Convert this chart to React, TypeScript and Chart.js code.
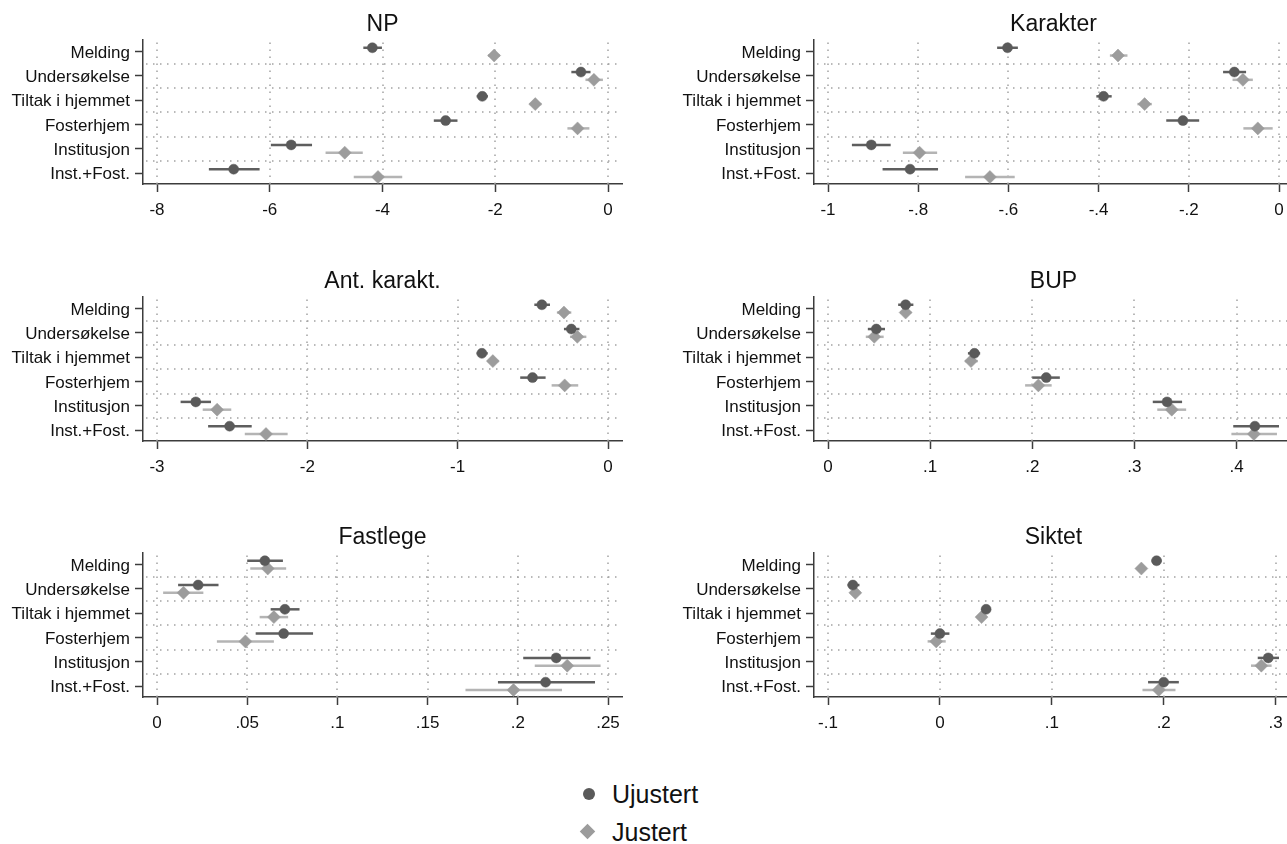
import { useEffect, useRef } from 'react';
import { Chart, registerables } from 'chart.js';

Chart.register(...registerables);

const FONT = '"Liberation Sans", Arial, Helvetica, sans-serif';
Chart.defaults.font.family = FONT;

const categories = ['Melding', 'Undersøkelse', 'Tiltak i hjemmet', 'Fosterhjem', 'Institusjon', 'Inst.+Fost.'];
const seriesNames = ['Ujustert', 'Justert'];

// NP
const npTicks = [-8, -6, -4, -2, 0];
const npUjustert = [-4.18, -0.48, -2.23, -2.88, -5.62, -6.64];
const npUjustertCI = [[-4.34, -4.01], [-0.65, -0.31], [-2.33, -2.13], [-3.09, -2.67], [-5.98, -5.25], [-7.08, -6.18]];
const npJustert = [-2.02, -0.25, -1.29, -0.54, -4.67, -4.08];
const npJustertCI = [[-2.13, -1.92], [-0.4, -0.09], [-1.39, -1.18], [-0.72, -0.33], [-5.01, -4.35], [-4.51, -3.65]];

// Karakter
const karTicks = [-1, -0.8, -0.6, -0.4, -0.2, 0];
const karUjustert = [-0.602, -0.099, -0.389, -0.213, -0.904, -0.818];
const karUjustertCI = [[-0.625, -0.579], [-0.124, -0.073], [-0.405, -0.371], [-0.25, -0.177], [-0.947, -0.861], [-0.879, -0.756]];
const karJustert = [-0.357, -0.08, -0.298, -0.047, -0.797, -0.641];
const karJustertCI = [[-0.375, -0.336], [-0.103, -0.058], [-0.314, -0.282], [-0.079, -0.014], [-0.834, -0.758], [-0.696, -0.586]];

// Ant. karakt.
const antTicks = [-3, -2, -1, 0];
const antUjustert = [-0.44, -0.244, -0.839, -0.502, -2.742, -2.517];
const antUjustertCI = [[-0.49, -0.386], [-0.293, -0.19], [-0.874, -0.8], [-0.584, -0.415], [-2.843, -2.641], [-2.66, -2.37]];
const antJustert = [-0.293, -0.204, -0.766, -0.288, -2.6, -2.275];
const antJustertCI = [[-0.34, -0.244], [-0.253, -0.144], [-0.8, -0.728], [-0.375, -0.198], [-2.696, -2.506], [-2.416, -2.131]];

// BUP
const bupTicks = [0, 0.1, 0.2, 0.3, 0.4];
const bupUjustert = [0.076, 0.0473, 0.1434, 0.2137, 0.332, 0.418];
const bupUjustertCI = [[0.0687, 0.0836], [0.039, 0.0558], [0.137, 0.149], [0.2, 0.227], [0.318, 0.3467], [0.3968, 0.4416]];
const bupJustert = [0.076, 0.0453, 0.14, 0.206, 0.3366, 0.417];
const bupJustertCI = [[0.0707, 0.0816], [0.037, 0.0545], [0.134, 0.1467], [0.193, 0.219], [0.3224, 0.3507], [0.395, 0.4396]];

// Fastlege
const fastTicks = [0, 0.05, 0.1, 0.15, 0.2, 0.25];
const fastUjustert = [0.0598, 0.0228, 0.0709, 0.0702, 0.2213, 0.2154];
const fastUjustertCI = [[0.05, 0.0698], [0.0117, 0.0341], [0.063, 0.079], [0.0547, 0.0865], [0.203, 0.2403], [0.189, 0.2428]];
const fastJustert = [0.0614, 0.0147, 0.0648, 0.049, 0.2274, 0.1976];
const fastJustertCI = [[0.0517, 0.0716], [0.0034, 0.0257], [0.0569, 0.0727], [0.0332, 0.0648], [0.2094, 0.2459], [0.171, 0.2245]];

// Siktet
const sikTicks = [-0.1, 0, 0.1, 0.2, 0.3];
const sikUjustert = [0.1936, -0.0778, 0.0413, 0.0, 0.2934, 0.2];
const sikUjustertCI = [[0.1892, 0.198], [-0.0826, -0.0719], [0.0372, 0.0454], [-0.0081, 0.0085], [0.284, 0.303], [0.186, 0.2135]];
const sikJustert = [0.18, -0.0756, 0.0372, -0.0033, 0.2872, 0.1956];
const sikJustertCI = [[0.1763, 0.184], [-0.08, -0.0708], [0.0332, 0.0417], [-0.011, 0.0052], [0.278, 0.2964], [0.181, 0.2105]];

const DARK = '#5a5a5a';
const LIGHT = '#9c9c9c';
const DARK_CI = '#5e5e5e';
const LIGHT_CI = '#b4b4b4';
const AXIS = '#3c3c3c';
const GRID = '#a3a3a3';

// Stata-style number labels: "-.8", ".05", "0"
function axisLabel(v: number): string {
  const r = Math.round(v * 10000) / 10000;
  if (r === 0) return '0';
  let s = String(Math.abs(r));
  if (s.startsWith('0.')) s = s.slice(1);
  return (r < 0 ? '-' : '') + s;
}

type PanelProps = {
  title: string;
  ticks: number[];
  u: number[];
  uCI: number[][];
  j: number[];
  jCI: number[][];
  left: number;
  top: number;
  width: number;
  axisWidth: number;
};

const CANVAS_H = 257;
const PLOT_TOP = 39.5;
const PLOT_BOTTOM = 184;
const PLOT_W = 479;
const ROW_SHIFT = 0.16;

function Panel({ title, ticks, u, uCI, j, jCI, left, top, width, axisWidth }: PanelProps) {
  const ref = useRef<HTMLCanvasElement | null>(null);

  useEffect(() => {
    const canvas = ref.current;
    if (!canvas) return;

    // axis range spans ticks and all interval ends, with a small margin on each side
    const allLo = [...uCI, ...jCI].map((c) => c[0]);
    const allHi = [...uCI, ...jCI].map((c) => c[1]);
    const rMin = Math.min(ticks[0], ...allLo, ...u, ...j);
    const rMax = Math.max(ticks[ticks.length - 1], ...allHi, ...u, ...j);
    const pad = ((rMax - rMin) * 14) / 451;

    const decor = {
      id: 'panelDecor',
      beforeDatasetsDraw(chart: any) {
        const { ctx, chartArea } = chart;
        const { left: l, right: r, top: t, bottom: b } = chartArea;
        const xs = chart.scales.x;
        const ys = chart.scales.y;
        ctx.save();
        ctx.strokeStyle = GRID;
        ctx.lineWidth = 1.5;
        ctx.setLineDash([1.5, 5.5]);
        for (const tk of xs.ticks) {
          const px = Math.round(xs.getPixelForValue(tk.value));
          ctx.beginPath();
          ctx.moveTo(px, t + 3);
          ctx.lineTo(px, b);
          ctx.stroke();
        }
        for (let k = 1; k < categories.length; k++) {
          const py = Math.round(ys.getPixelForValue(k + 0.5));
          ctx.beginPath();
          ctx.moveTo(l + 3, py);
          ctx.lineTo(r, py);
          ctx.stroke();
        }
        ctx.setLineDash([]);
        ctx.lineWidth = 2.5;
        chart.data.datasets.forEach((ds: any) => {
          ctx.strokeStyle = ds.ciColor;
          ds.ci.forEach((c: number[], k: number) => {
            const py = ys.getPixelForValue(ds.data[k].y);
            ctx.beginPath();
            ctx.moveTo(xs.getPixelForValue(c[0]), py);
            ctx.lineTo(xs.getPixelForValue(c[1]), py);
            ctx.stroke();
          });
        });
        ctx.restore();
      },
      afterDraw(chart: any) {
        const { ctx, chartArea } = chart;
        ctx.save();
        ctx.fillStyle = '#111';
        ctx.font = `23px ${FONT}`;
        ctx.textAlign = 'center';
        ctx.textBaseline = 'middle';
        ctx.fillText(title, (chartArea.left + chartArea.right) / 2, 25);
        ctx.restore();
      },
    };

    const chart = new Chart(canvas, {
      type: 'scatter',
      data: {
        datasets: [
          {
            label: seriesNames[0],
            data: u.map((v, i) => ({ x: v, y: i + 1 - ROW_SHIFT })),
            pointStyle: 'circle',
            pointRadius: 5,
            backgroundColor: DARK,
            borderColor: DARK,
            borderWidth: 0.5,
            ci: uCI,
            ciColor: DARK_CI,
          } as any,
          {
            label: seriesNames[1],
            data: j.map((v, i) => ({ x: v, y: i + 1 + ROW_SHIFT })),
            pointStyle: 'rectRot',
            pointRadius: 6.5,
            backgroundColor: LIGHT,
            borderColor: LIGHT,
            borderWidth: 0.5,
            ci: jCI,
            ciColor: LIGHT_CI,
          } as any,
        ],
      },
      options: {
        responsive: false,
        animation: false,
        devicePixelRatio: 1,
        events: [],
        layout: { padding: { top: PLOT_TOP, left: 0, right: width - axisWidth - PLOT_W, bottom: 0 } },
        plugins: { legend: { display: false }, tooltip: { enabled: false }, title: { display: false } },
        scales: {
          x: {
            type: 'linear',
            min: rMin - pad,
            max: rMax + pad,
            afterBuildTicks: (s: any) => {
              s.ticks = ticks.map((v) => ({ value: v }));
            },
            afterFit: (s: any) => {
              s.height = CANVAS_H - PLOT_BOTTOM;
              s.paddingLeft = 0;
              s.paddingRight = 0;
            },
            ticks: {
              callback: (v: any) => axisLabel(Number(v)),
              font: { size: 17, family: FONT },
              color: '#111',
              padding: 8,
              maxRotation: 0,
              autoSkip: false,
            },
            grid: { drawOnChartArea: false, drawTicks: true, tickLength: 8, tickWidth: 1.5, tickColor: AXIS },
            border: { display: true, color: AXIS, width: 1.5 },
          },
          y: {
            type: 'linear',
            reverse: true,
            min: 0.5,
            max: 6.45,
            afterBuildTicks: (s: any) => {
              s.ticks = categories.map((_, i) => ({ value: i + 1 }));
            },
            afterFit: (s: any) => {
              s.width = axisWidth;
            },
            ticks: {
              callback: (v: any) => categories[Math.round(Number(v)) - 1],
              font: { size: 17, family: FONT },
              color: '#111',
              padding: 5,
              labelOffset: 1.5,
              autoSkip: false,
            },
            grid: { drawOnChartArea: false, drawTicks: true, tickLength: 8, tickWidth: 1.5, tickColor: AXIS },
            border: { display: true, color: AXIS, width: 1.5 },
          },
        },
      } as any,
      plugins: [decor],
    });

    return () => chart.destroy();
  }, [title, ticks, u, uCI, j, jCI, width, axisWidth]);

  return (
    <canvas
      ref={ref}
      width={width}
      height={CANVAS_H}
      style={{ position: 'absolute', left, top, width, height: CANVAS_H }}
    />
  );
}

export default function App() {
  const rowTops = [0, 257, 513];
  return (
    <div
      style={{
        position: 'absolute',
        left: 0,
        top: 0,
        width: 1287,
        height: 844,
        overflow: 'hidden',
        background: '#fff',
        fontFamily: FONT,
      }}
    >
      <Panel title="NP" ticks={npTicks} u={npUjustert} uCI={npUjustertCI} j={npJustert} jCI={npJustertCI}
        left={0} top={rowTops[0]} width={640} axisWidth={143} />
      <Panel title="Karakter" ticks={karTicks} u={karUjustert} uCI={karUjustertCI} j={karJustert} jCI={karJustertCI}
        left={640} top={rowTops[0]} width={660} axisWidth={174} />
      <Panel title="Ant. karakt." ticks={antTicks} u={antUjustert} uCI={antUjustertCI} j={antJustert} jCI={antJustertCI}
        left={0} top={rowTops[1]} width={640} axisWidth={143} />
      <Panel title="BUP" ticks={bupTicks} u={bupUjustert} uCI={bupUjustertCI} j={bupJustert} jCI={bupJustertCI}
        left={640} top={rowTops[1]} width={660} axisWidth={174} />
      <Panel title="Fastlege" ticks={fastTicks} u={fastUjustert} uCI={fastUjustertCI} j={fastJustert} jCI={fastJustertCI}
        left={0} top={rowTops[2]} width={640} axisWidth={143} />
      <Panel title="Siktet" ticks={sikTicks} u={sikUjustert} uCI={sikUjustertCI} j={sikJustert} jCI={sikJustertCI}
        left={640} top={rowTops[2]} width={660} axisWidth={174} />

      {/* legend */}
      <div style={{ position: 'absolute', left: 583, top: 788, width: 12, height: 12, borderRadius: '50%', background: DARK }} />
      <div style={{ position: 'absolute', left: 612, top: 779, height: 30, lineHeight: '30px', fontSize: 25, color: '#111' }}>
        {seriesNames[0]}
      </div>
      <div
        style={{
          position: 'absolute',
          left: 581.5,
          top: 825.5,
          width: 11,
          height: 11,
          background: LIGHT,
          transform: 'rotate(45deg)',
        }}
      />
      <div style={{ position: 'absolute', left: 612, top: 817, height: 30, lineHeight: '30px', fontSize: 25, color: '#111' }}>
        {seriesNames[1]}
      </div>
    </div>
  );
}
